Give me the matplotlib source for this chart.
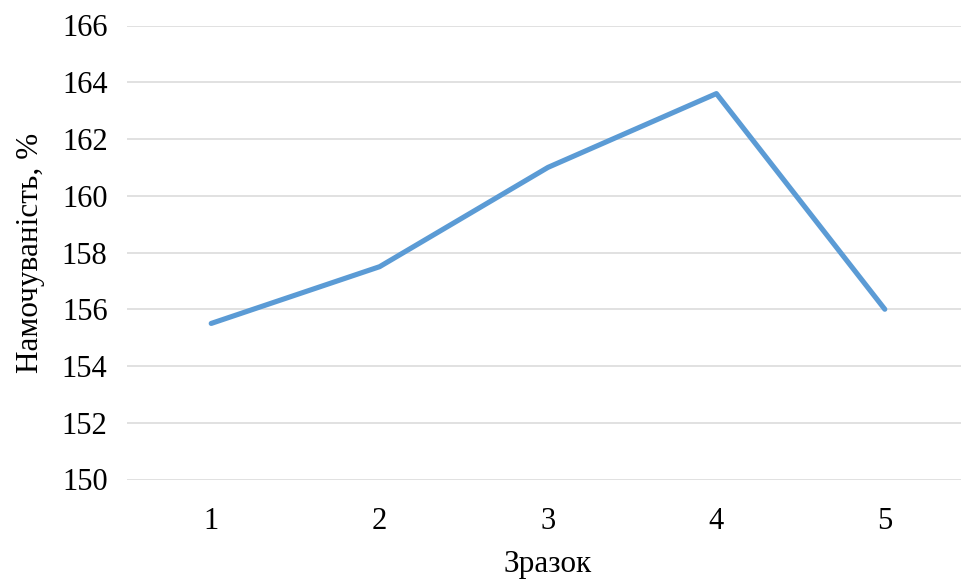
import matplotlib
matplotlib.use("Agg")
import matplotlib.pyplot as plt

samples = ["1", "2", "3", "4", "5"]
wettability = [155.5, 157.5, 161.0, 163.6, 156.0]
y_ticks = [150, 152, 154, 156, 158, 160, 162, 164, 166]

plt.rcParams["font.family"] = ["Liberation Serif", "DejaVu Serif"]

W, H = 961, 579
fig = plt.figure(figsize=(W / 100, H / 100), dpi=100)
left, right, top, bottom = 127, 969, 25.5, 479.5
ax = fig.add_axes([left / W, 1 - bottom / H, (right - left) / W, (bottom - top) / H])

x = range(1, len(samples) + 1)
ax.plot(x, wettability, color="#5B9BD5", linewidth=3.7, solid_capstyle="round",
        solid_joinstyle="round", zorder=3)

ax.set_xlim(0.5, len(samples) + 0.5)
ax.set_ylim(y_ticks[0], y_ticks[-1])
ax.set_xticks(list(x))
ax.set_xticklabels(samples)
ax.set_yticks(y_ticks)
ax.grid(axis="y", color="#D9D9D9", linewidth=1.1)
ax.set_axisbelow(True)
for s in ax.spines.values():
    s.set_visible(False)
ax.tick_params(axis="both", length=0, labelsize=22, colors="black")
ax.tick_params(axis="y", pad=14)
ax.tick_params(axis="x", pad=20)

ax.set_xlabel("Зразок", fontsize=22.5, labelpad=10)
ax.set_ylabel("Намочуваність, %", fontsize=22.5, labelpad=12)

fig.savefig("out.png", dpi=100)
